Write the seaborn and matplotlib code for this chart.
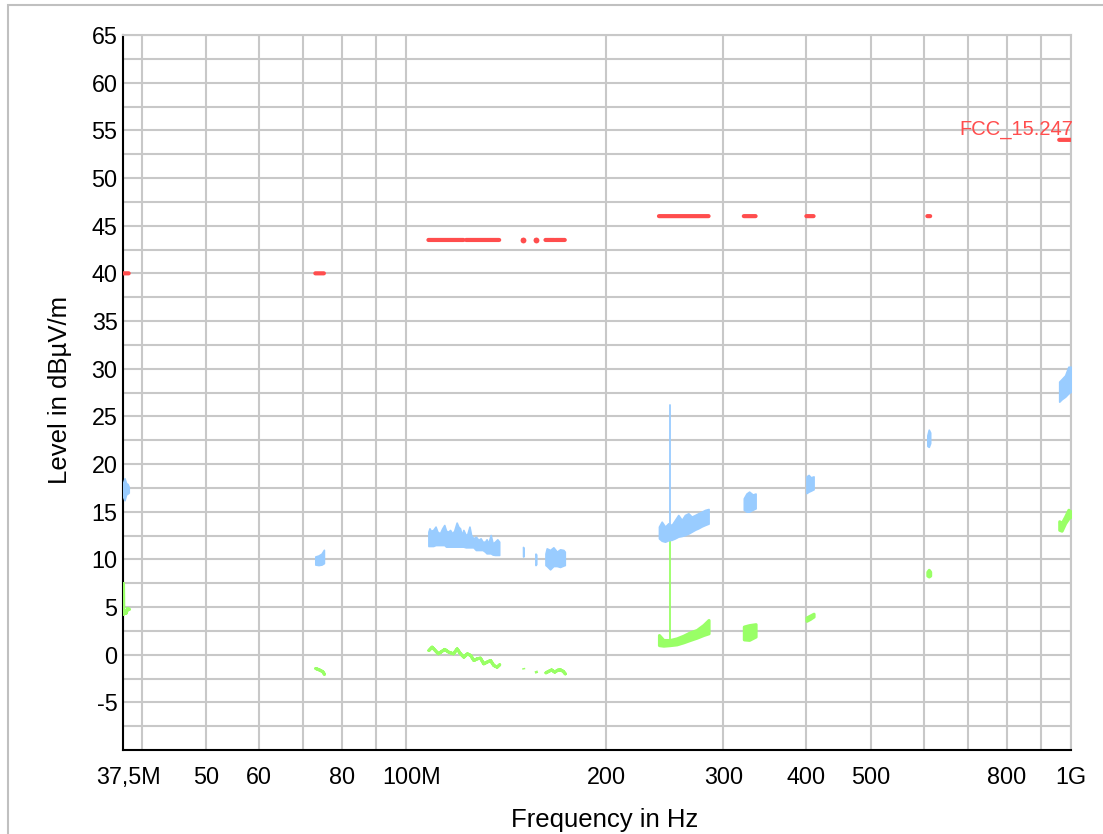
import numpy as np
import pandas as pd
import matplotlib
matplotlib.use("Agg")
import matplotlib.pyplot as plt
import matplotlib.ticker as mticker
import matplotlib.transforms as mtransforms
from matplotlib.patches import Rectangle
import seaborn as sns

# ---------------- data (frequencies in MHz, levels in dBuV/m) ----------------
limit_start_mhz = [37.5, 73.0, 108.0, 123.0, 149.9, 156.7, 162.0, 167.7, 240.0, 322.0, 399.9, 608.0, 960.0]
limit_end_mhz = [38.25, 75.2, 121.94, 138.0, 150.05, 156.9, 167.17, 173.2, 285.0, 335.4, 410.0, 614.0, 1000.0]
limit_level = [40, 40, 43.5, 43.5, 43.5, 43.5, 43.5, 43.5, 46, 46, 46, 46, 54]
limit_name = "FCC_15.247"

# peak trace (blue) - each segment: frequencies, upper and lower envelope
pk_freq = [
    [37.5, 37.7, 37.9, 38.1, 38.25],
    [73.0, 73.8, 74.6, 75.2],
    [108.0, 108.4, 108.9, 109.8, 110.7, 111.4, 112.4, 113.3, 114.1, 114.8, 115.7, 116.4,
     117.3, 118.1, 119.1, 119.8, 120.5, 121.2, 121.9, 122.9, 123.6, 124.5, 125.2, 126.2,
     127.3, 128.4, 129.4, 130.3, 131.4, 132.1, 132.9, 134.0, 134.9, 136.0, 137.1, 138.0],
    [149.9, 150.05],
    [156.5, 156.9],
    [162.0, 162.7, 164.6, 166.5, 168.5, 170.4, 172.4, 173.2],
    [240.0, 242.3, 245.1, 247.9, 250.8, 253.7, 256.6, 259.7, 262.6, 265.7, 268.8, 271.9,
     275.0, 278.3, 281.5, 285.0],
    [322.0, 325.0, 328.0, 332.0, 335.4],
    [400.0, 403.0, 406.0, 410.0],
    [608.0, 611.0, 614.0],
    [960.0, 968.0, 980.0, 991.0, 1000.0],
]
pk_high = [
    [18.0, 18.5, 18.0, 17.9, 17.6],
    [10.3, 10.4, 10.6, 11.0],
    [12.9, 13.25, 13.0, 13.08, 13.43, 12.9, 12.73, 13.25, 13.6, 13.0, 12.9, 13.08,
     12.73, 13.0, 13.85, 13.43, 13.25, 12.55, 13.08, 12.55, 12.66, 13.43, 12.55, 12.2,
     12.38, 12.03, 12.2, 11.85, 11.85, 12.1, 11.68, 12.55, 11.68, 11.85, 12.1, 11.85],
    [11.3, 11.2],
    [10.6, 10.5],
    [10.6, 11.15, 10.98, 11.26, 10.8, 11.05, 10.98, 10.8],
    [13.43, 13.95, 13.43, 13.78, 13.6, 14.13, 14.65, 14.13, 14.65, 14.83, 14.48, 14.65,
     14.83, 15.0, 15.18, 15.28],
    [16.4, 16.9, 17.1, 16.8, 16.9],
    [18.7, 18.85, 18.6, 18.7],
    [23.0, 23.6, 23.3],
    [28.64, 28.9, 29.3, 30.2, 30.2],
]
pk_low = [
    [16.6, 16.2, 16.8, 16.9, 17.0],
    [9.45, 9.4, 9.45, 9.6],
    [11.4, 11.4, 11.4, 11.4, 11.5, 11.5, 11.5, 11.5, 11.5, 11.33, 11.33, 11.33,
     11.33, 11.33, 11.33, 11.33, 11.33, 11.33, 11.33, 11.26, 11.26, 11.26, 11.26, 11.26,
     10.98, 10.98, 10.98, 10.98, 10.8, 10.63, 10.63, 10.63, 10.5, 10.46, 10.46, 10.46],
    [10.3, 10.3],
    [9.4, 9.5],
    [9.4, 9.3, 8.95, 9.3, 9.3, 9.2, 9.35, 9.4],
    [12.2, 11.95, 11.85, 12.0, 12.05, 12.2, 12.38, 12.45, 12.55, 12.7, 12.9, 13.1,
     13.25, 13.45, 13.6, 13.75],
    [15.2, 15.0, 15.0, 15.2, 15.35],
    [16.95, 17.1, 17.2, 17.35],
    [21.9, 21.8, 22.2],
    [26.54, 26.79, 27.06, 27.41, 27.59],
]

# average trace (green)
av_freq = [
    [37.5, 37.52, 37.7, 37.85, 38.05, 38.25],
    [73.0, 73.6, 74.2, 74.8, 75.2],
    [108.0, 109.2, 110.4, 111.6, 112.9, 114.1, 115.7, 117.6, 119.1, 120.5, 121.9, 123.4,
     124.8, 126.2, 127.7, 129.1, 130.6, 132.1, 133.7, 135.2, 136.8, 138.0],
    [149.9, 150.05],
    [156.5, 156.9],
    [162.0, 163.5, 165.2, 167.0, 168.8, 170.5, 172.0, 173.2],
    [240.0, 243.7, 249.4, 255.2, 261.1, 267.2, 273.5, 279.9, 285.0],
    [322.0, 328.0, 335.4],
    [400.0, 405.0, 410.0],
    [608.0, 611.0, 614.0],
    [960.0, 968.0, 980.0, 991.0, 1000.0],
]
av_high = [
    [7.5, 4.3, 4.6, 4.4, 4.9, 4.8],
    [-1.4, -1.5, -1.6, -1.75, -2.0],
    [0.49, 0.84, 0.49, 0.14, 0.39, 0.6, 0.31, 0.14, 0.66, 0.14, -0.21, 0.14,
     -0.03, -0.56, -0.38, -0.31, -0.91, -0.73, -0.56, -1.08, -1.26, -1.01],
    [-1.35, -1.5],
    [-1.65, -1.9],
    [-1.85, -1.7, -1.55, -1.78, -1.57, -1.55, -1.7, -1.96],
    [2.06, 1.54, 1.54, 1.71, 1.99, 2.34, 2.59, 3.11, 3.64],
    [2.95, 3.1, 3.2],
    [3.9, 4.1, 4.3],
    [8.7, 8.9, 8.7],
    [14.0, 13.8, 14.5, 15.2, 15.0],
]
av_low = [
    [7.5, 4.3, 4.6, 4.4, 4.9, 4.8],
    [-1.4, -1.5, -1.6, -1.75, -2.0],
    [0.49, 0.84, 0.49, 0.14, 0.39, 0.6, 0.31, 0.14, 0.66, 0.14, -0.21, 0.14,
     -0.03, -0.56, -0.38, -0.31, -0.91, -0.73, -0.56, -1.08, -1.26, -1.01],
    [-1.35, -1.5],
    [-1.65, -1.9],
    [-1.85, -1.7, -1.55, -1.78, -1.57, -1.55, -1.7, -1.96],
    [1.0, 0.94, 1.0, 1.08, 1.29, 1.54, 1.78, 2.06, 2.24],
    [1.6, 1.55, 1.9],
    [3.55, 3.75, 4.0],
    [8.3, 8.2, 8.3],
    [13.1, 13.0, 13.8, 14.3, 14.5],
]

# narrow carrier spike
spike_mhz = 249.4
spike_pk = [13.0, 26.2]
spike_av = [1.4, 11.9]

# axis ticks
xtick_mhz = [37.5, 40, 50, 60, 70, 80, 90, 100, 200, 300, 400, 500, 600, 700, 800, 900, 1000]
xtick_labels = ["37,5M", "", "50", "60", "", "80", "", "100M", "200", "300", "400", "500",
                "", "", "800", "", "1G"]
ytick_major = list(range(-5, 66, 5))
ytick_minor = [v + 2.5 for v in range(-10, 65, 5)]

# ---------------- styling ----------------
RED = "#FF4D4D"
BLUE = "#99CCFF"
GREEN = "#99FF66"
GRID = "#C8C8C8"

sns.set_theme(style="white")
plt.rcParams["font.family"] = ["Liberation Sans", "DejaVu Sans"]

W, H = 1103, 834
fig = plt.figure(figsize=(W / 100, H / 100), dpi=100)
ax = fig.add_axes([123 / W, 84 / H, 948 / W, 715 / H])
ax.set_xscale("log")
ax.set_xlim(37.5e6, 1e9)
ax.set_ylim(-10, 65)

# average (green) trace
for f, hi, lo in zip(av_freq, av_high, av_low):
    ax.fill_between(np.array(f) * 1e6, lo, hi, facecolor=GREEN, edgecolor=GREEN,
                    linewidth=2.2, zorder=3)
# peak (blue) trace
for f, hi, lo in zip(pk_freq, pk_high, pk_low):
    ax.fill_between(np.array(f) * 1e6, lo, hi, facecolor=BLUE, edgecolor=BLUE,
                    linewidth=1.2, zorder=4)

spike_df = pd.DataFrame({
    "freq": [spike_mhz * 1e6] * 4,
    "level": spike_pk + spike_av,
    "trace": ["pk", "pk", "av", "av"],
})
sns.lineplot(data=spike_df[spike_df.trace == "pk"], x="freq", y="level", color=BLUE,
             lw=1.3, estimator=None, sort=False, ax=ax, zorder=4)
sns.lineplot(data=spike_df[spike_df.trace == "av"], x="freq", y="level", color=GREEN,
             lw=1.3, estimator=None, sort=False, ax=ax, zorder=3)

# limit lines (one short line per restricted band, round ends)
for s, e, lv in zip(limit_start_mhz, limit_end_mhz, limit_level):
    ln, = ax.plot([s * 1e6, e * 1e6], [lv, lv], color=RED, lw=3.0,
                  solid_capstyle="round", zorder=5)
    ln.set_snap(False)
    ln.set_path_effects([])
    # very short bands: mark them as dots so they stay visible
    if e - s < 0.5:
        ax.plot([(s + e) / 2 * 1e6], [lv], marker="o", ms=4.2, mew=0, color=RED,
                linestyle="none", zorder=5)
ax.text(1.007e9, 54.5, limit_name, ha="right", va="baseline", color=RED, fontsize=14.5,
        clip_on=False, zorder=6)

# ticks & grid
ax.xaxis.set_major_locator(mticker.FixedLocator([v * 1e6 for v in xtick_mhz]))
ax.xaxis.set_major_formatter(mticker.FixedFormatter(xtick_labels))
ax.xaxis.set_minor_locator(mticker.NullLocator())
ax.yaxis.set_major_locator(mticker.FixedLocator(ytick_major))
ax.yaxis.set_minor_locator(mticker.FixedLocator(ytick_minor))
ax.yaxis.set_major_formatter(mticker.FuncFormatter(lambda v, p: f"{v:g}"))

ax.grid(True, which="both", color=GRID, linewidth=1.5)
ax.set_axisbelow(True)
ax.tick_params(which="both", direction="inout", length=7.2, width=1.3, color="black",
               labelsize=16.8, labelcolor="black")
ax.tick_params(axis="x", pad=8)
ax.tick_params(axis="y", pad=0.3)

for side in ["left", "bottom"]:
    ax.spines[side].set_color("black")
    ax.spines[side].set_linewidth(1.5)
for side in ["top", "right"]:
    ax.spines[side].set_color(GRID)
    ax.spines[side].set_linewidth(1.5)

ax.set_xlabel("Frequency in Hz", fontsize=18.5, color="black")
ax.set_ylabel("Level in dBµV/m", fontsize=18.5, color="black")
ax.xaxis.set_label_coords(0.508, -0.081)
ax.yaxis.set_label_coords(-0.054, 0.503)

# labels carrying the unit sit slightly right of their tick
fig.canvas.draw()
shift = mtransforms.ScaledTranslation(5 / 100, 0, fig.dpi_scale_trans)
for lab in ax.get_xticklabels():
    if lab.get_text().endswith("M"):
        lab.set_transform(lab.get_transform() + shift)

# outer frame
fig.patches.append(Rectangle((8 / W, -0.1), 1.2, (H - 5) / H + 0.1,
                             transform=fig.transFigure, fill=False,
                             edgecolor="#C0C0C0", linewidth=1.5, zorder=0))

fig.savefig("out.png", dpi=100)
